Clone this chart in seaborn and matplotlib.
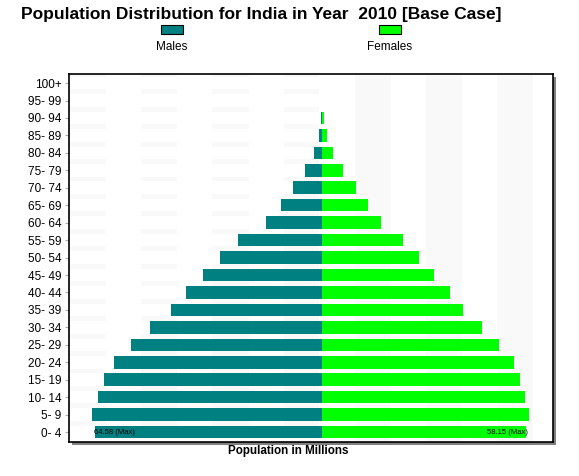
import matplotlib
matplotlib.use("Agg")
import matplotlib.pyplot as plt
from matplotlib.patches import Rectangle
import pandas as pd
import seaborn as sns

# age groups, top of the pyramid first
age_groups = ["100+", "95- 99", "90- 94", "85- 89", "80- 84", "75- 79", "70- 74",
              "65- 69", "60- 64", "55- 59", "50- 54", "45- 49", "40- 44", "35- 39",
              "30- 34", "25- 29", "20- 24", "15- 19", "10- 14", "5- 9", "0- 4"]

# population in millions
males = [0.0, 0.0, 0.37, 0.85, 2.28, 4.84, 8.25, 11.66, 15.93, 23.9, 29.0,
         33.85, 38.7, 42.96, 48.9, 54.3, 59.2, 62.0, 63.7, 65.4, 64.58]
females = [0.0, 0.0, 0.57, 1.42, 3.13, 5.97, 9.67, 13.1, 16.8, 23.0, 27.6,
           31.9, 36.4, 40.1, 45.5, 50.4, 54.6, 56.3, 57.8, 58.9, 58.15]

male_max_label = "64.58 (Max)"
female_max_label = "58.15 (Max)"

# light background bands (millions)
right_bands = [(9.4, 10.2), (29.6, 10.2), (49.8, 10.2)]
left_bands = [(-72.0, 10.5), (-51.5, 10.2), (-31.3, 10.5), (-10.8, 9.95)]

male_color = "#008080"
female_color = "#00ff00"

df = pd.DataFrame({"Age": age_groups, "Males": [-m for m in males], "Females": females})

sns.set_style("white")
plt.rcParams["font.family"] = ["Liberation Sans", "DejaVu Sans"]
plt.rcParams["text.color"] = "black"

fig = plt.figure(figsize=(5.79, 4.76), dpi=100)
W, H = 579, 476
ax = fig.add_axes([69 / W, 1 - 442 / H, (553 - 69) / W, (442 - 74) / H])
ax.set_facecolor("white")

# drop shadow behind the plot frame
fig.patches.append(Rectangle((72 / W, 1 - 445 / H), (553 - 69) / W, (442 - 74) / H,
                             transform=fig.transFigure, facecolor="#808080",
                             edgecolor="none", zorder=-1))

# background bands
for x0, w in right_bands:
    ax.axvspan(x0, x0 + w, color="#f9f9f9", zorder=0, lw=0)
for k in range(len(age_groups)):
    ax.broken_barh(left_bands, (k - 0.5 - 0.14, 0.28), color="#f9f9f9", zorder=0, lw=0)

sns.barplot(data=df, x="Males", y="Age", orient="h", color=male_color,
            saturation=1, width=0.72, errorbar=None, linewidth=0, ax=ax, zorder=2)
sns.barplot(data=df, x="Females", y="Age", orient="h", color=female_color,
            saturation=1, width=0.72, errorbar=None, linewidth=0, ax=ax, zorder=2)

ax.set_xlim(-72, 65.7)
ax.set_ylim(20.57, -0.52)
ax.set_xticks([])
ax.set_xlabel("")
ax.set_ylabel("")
ax.tick_params(axis="y", left=True, length=3, width=0.8, color="#b0b0b0",
               pad=2.5, labelsize=8.5, labelcolor="black")
for s in ax.spines.values():
    s.set_visible(True)
    s.set_color("black")
    s.set_linewidth(1.2)

# max annotations on the youngest group
last = len(age_groups) - 1
ax.text(-males[last] - 0.3, last, male_max_label, fontsize=5.5, ha="left",
        va="center", color="black", zorder=3)
ax.text(females[last] + 0.3, last, female_max_label, fontsize=5.5, ha="right",
        va="center", color="black", zorder=3)

fig.text(261 / W, 1 - 19 / H, "Population Distribution for India in Year  2010 [Base Case]",
         fontsize=12.5, fontweight="bold", ha="center", va="baseline")
fig.text(288 / W, 1 - 454 / H, "Population in Millions", fontsize=8.4,
         fontweight="bold", ha="center", va="baseline")

# legend: colour boxes with labels underneath
for cx, color, label in [(172, male_color, "Males"), (390, female_color, "Females")]:
    fig.patches.append(Rectangle(((cx - 11) / W, 1 - 34 / H), 22 / W, 9 / H,
                                 transform=fig.transFigure, facecolor=color,
                                 edgecolor="black", lw=0.8))
    fig.text(cx / W, 1 - 50 / H, label, fontsize=8.5, ha="center", va="baseline")

fig.savefig("out.png", dpi=100)
